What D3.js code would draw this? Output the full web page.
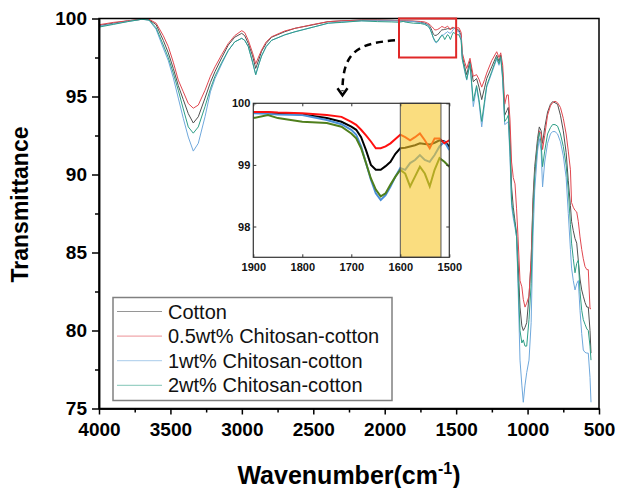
<!DOCTYPE html>
<html>
<head>
<meta charset="utf-8">
<script src="https://cdn.jsdelivr.net/npm/d3@7"></script>
<style>
  body { margin: 0; background: #fff; }
  text { font-family: Arial, "Liberation Sans", sans-serif; }
</style>
</head>
<body>
<svg width="618" height="488"></svg>
<script>
// FTIR spectra (wavenumber in cm-1, transmittance in %)
const wavenumbers = [4000,3900,3800,3700,3650,3600,3550,3515,3480,3445,3410,3375,3340,3305,3258,3220,3188,3140,3095,3050,
  3001,2980,2955,2925,2903,2880,2862,2830,2792,2700,2628,2500,2395,2300,2162,2050,1950,1900,1870,1850,
  1800,1750,1720,1700,1690,1680,1670,1660,1650,1640,1630,1620,1610,1600,1590,1580,1570,1560,1550,1540,
  1530,1520,1510,1500,1480,1465,1457,1440,1426,1403,1380,1357,1340,1321,1300,1286,1251,1216,1200,1188,
  1174,1160,1145,1135,1123,1112,1100,1088,1077,1067,1053,1040,1030,1018,1006,990,975,962,950,930,
  918,905,895,880,860,840,825,808,790,770,750,730,715,700,692,680,668,656,645,633,
  621,610,598,585,575,563,556];

const cotton = [99.55,99.70,99.85,99.95,99.92,99.60,98.60,97.80,96.80,95.70,
  94.80,93.90,93.30,93.70,94.90,95.90,96.60,97.50,98.30,98.80,
  99.05,98.90,98.40,97.60,96.80,97.40,97.90,98.40,98.80,99.15,
  99.37,99.60,99.80,99.85,99.90,99.90,99.88,99.86,99.85,99.84,
  99.82,99.76,99.70,99.62,99.57,99.45,99.24,99.00,98.92,98.92,
  98.98,99.05,99.18,99.27,99.28,99.30,99.32,99.35,99.34,99.33,
  99.36,99.40,99.38,99.30,99.25,98.90,97.60,96.90,96.40,97.30,
  95.95,96.15,95.60,94.80,95.60,96.15,96.90,97.65,97.25,97.65,
  96.50,93.80,94.10,94.30,92.40,89.20,87.90,87.00,86.25,84.50,
  81.50,80.30,80.00,80.20,80.50,82.20,84.50,88.50,90.50,92.30,
  93.05,92.80,92.00,93.00,94.00,94.50,94.67,94.60,94.50,93.80,
  92.80,91.40,89.60,88.00,87.00,86.40,85.90,85.60,84.50,83.30,
  82.60,82.20,81.80,81.50,81.50,80.00,78.55];

const chitosan05 = [99.60,99.75,99.85,99.95,99.95,99.70,98.90,98.20,97.20,96.05,
  95.30,94.55,94.25,94.45,95.40,96.30,96.90,97.70,98.40,98.90,
  99.22,99.10,98.60,97.80,97.10,97.60,97.98,98.50,98.83,99.20,
  99.37,99.62,99.80,99.85,99.90,99.90,99.88,99.86,99.86,99.85,
  99.84,99.81,99.78,99.70,99.65,99.57,99.48,99.38,99.27,99.27,
  99.30,99.35,99.42,99.49,99.45,99.40,99.45,99.51,99.40,99.27,
  99.43,99.43,99.35,99.40,99.40,99.10,97.80,97.20,96.80,97.45,
  96.30,96.40,96.10,95.60,96.10,96.50,97.30,97.87,97.50,97.80,
  97.00,94.50,95.10,95.10,93.50,90.80,89.80,89.40,87.80,86.00,
  83.20,82.80,82.00,81.50,81.75,82.20,84.60,88.00,90.00,92.00,
  92.80,92.60,91.60,92.50,93.80,94.40,94.60,94.70,94.60,94.30,
  93.60,92.60,91.50,90.30,88.20,87.90,87.70,87.60,87.00,86.00,
  85.20,84.60,84.10,83.90,83.90,81.40,81.40];

const chitosan1 = [99.50,99.65,99.80,99.95,99.90,99.30,98.10,97.30,96.20,94.90,
  93.60,92.40,91.50,92.00,93.70,95.30,96.15,97.10,97.95,98.50,
  98.73,98.60,98.20,97.20,96.40,97.10,97.60,98.20,98.60,98.95,
  99.15,99.45,99.70,99.78,99.85,99.85,99.85,99.84,99.83,99.82,
  99.81,99.73,99.66,99.57,99.49,99.30,99.03,98.76,98.54,98.43,
  98.51,98.65,98.81,98.95,98.92,99.03,99.08,99.16,99.08,99.05,
  99.16,99.30,99.38,99.24,99.15,98.70,97.40,96.60,96.05,97.10,
  94.35,95.60,94.60,93.05,94.60,95.60,96.50,97.40,97.00,97.50,
  96.00,93.20,93.30,93.40,91.10,88.00,87.20,86.60,86.00,83.00,
  78.10,76.50,75.40,76.50,77.30,78.10,80.50,86.00,89.00,91.50,
  92.30,91.50,89.20,90.80,92.00,92.60,92.75,92.75,92.60,92.10,
  91.20,89.80,87.50,85.20,84.00,83.20,82.60,83.00,83.20,81.30,
  79.80,78.75,78.60,78.55,78.55,77.00,75.40];

const chitosan2 = [99.45,99.62,99.80,99.95,99.90,99.40,98.30,97.50,96.50,95.40,
  94.20,93.05,92.65,93.05,94.35,95.50,96.30,97.20,97.95,98.50,
  98.73,98.60,98.20,97.20,96.40,97.10,97.60,98.20,98.60,98.95,
  99.15,99.45,99.70,99.75,99.85,99.80,99.78,99.76,99.81,99.76,
  99.70,99.68,99.62,99.51,99.43,99.27,99.03,98.78,98.60,98.49,
  98.54,98.68,98.81,98.92,98.86,98.65,98.81,98.97,98.86,98.65,
  98.92,99.11,99.05,98.97,98.95,98.60,97.40,96.70,96.10,97.10,
  94.70,95.70,94.80,93.40,94.80,95.70,96.60,97.50,97.10,97.55,
  96.20,93.40,93.60,93.80,91.50,88.30,87.50,86.80,86.00,83.50,
  80.00,79.20,79.40,79.00,79.00,80.70,83.00,87.50,90.00,92.00,
  92.70,92.00,90.50,91.50,92.60,93.00,93.20,93.20,93.10,92.60,
  91.80,90.60,89.00,86.80,85.60,84.60,83.70,84.30,84.50,82.50,
  81.30,80.70,80.40,80.10,80.00,79.00,78.10];

const seriesNames = ["Cotton", "0.5wt% Chitosan-cotton", "1wt% Chitosan-cotton", "2wt% Chitosan-cotton"];
const xTicks = [4000, 3500, 3000, 2500, 2000, 1500, 1000, 500];
const yTicks = [75, 80, 85, 90, 95, 100];
const insetXTicks = [1900, 1800, 1700, 1600, 1500];
const insetYTicks = [98, 99, 100];
const insetDomain = [1900, 1500];
const insetYDomain = [97.5, 100];
const highlightBand = [1600, 1517];

const svg = d3.select("svg"),
      margin = { top: 18.5, right: 19, bottom: 79.5, left: 99 },
      width = +svg.attr("width") - margin.left - margin.right,
      height = +svg.attr("height") - margin.top - margin.bottom;

const g = svg.append("g").attr("transform", `translate(${margin.left},${margin.top})`);

const x = d3.scaleLinear().domain([4000, 500]).range([0, width]);
const y = d3.scaleLinear().domain([75, 100]).range([height, 0]);

const mainColors = ["#505050", "#e0474f", "#6fa8dc", "#2e9e86"];
const insetColors = ["#000000", "#ff1010", "#4a8fd8", "#4f7f1c"];

const series = seriesNames.map((name, i) => ({
  name,
  points: wavenumbers.map((w, j) => ({ w, t: [cotton, chitosan05, chitosan1, chitosan2][i][j] }))
}));

// clip
svg.append("defs").append("clipPath").attr("id", "clipMain")
  .append("rect").attr("width", width).attr("height", height);

const line = d3.line().x(d => x(d.w)).y(d => y(d.t));

g.append("g").attr("clip-path", "url(#clipMain)")
  .selectAll("path")
  .data(series)
  .enter()
  .append("path")
  .attr("d", d => line(d.points))
  .attr("fill", "none")
  .attr("stroke", (d, i) => mainColors[i])
  .attr("stroke-width", 1);

// Axes
const minorX = d3.range(4000, 499, -250).filter(v => !xTicks.includes(v));
const minorY = d3.range(75, 100.1, 2.5).filter(v => !yTicks.includes(v));

const xAxis = g.append("g").attr("transform", `translate(0,${height})`)
  .call(d3.axisBottom(x).tickValues(xTicks).tickSize(6).tickSizeOuter(0).tickPadding(8).tickFormat(d3.format("d")));
g.append("g").attr("transform", `translate(0,${height})`)
  .call(d3.axisBottom(x).tickValues(minorX).tickSize(4).tickSizeOuter(0).tickFormat(""));
const yAxis = g.append("g")
  .call(d3.axisLeft(y).tickValues(yTicks).tickSize(7).tickSizeOuter(0).tickPadding(5).tickFormat(d3.format("d")));
g.append("g")
  .call(d3.axisLeft(y).tickValues(minorY).tickSize(4).tickSizeOuter(0).tickFormat(""));

g.selectAll(".tick line").attr("stroke", "#000").attr("stroke-width", 1.5);
g.selectAll(".domain").attr("stroke", "#000").attr("stroke-width", 1.5);
[xAxis, yAxis].forEach(a => a.selectAll("text")
  .style("font-size", "19px").style("font-weight", "bold").attr("fill", "#000"));

// frame
g.append("rect").attr("width", width).attr("height", height)
  .attr("fill", "none").attr("stroke", "#000").attr("stroke-width", 1.5);

// Titles
svg.append("text")
  .attr("transform", `translate(28,${margin.top + height / 2 - 9}) rotate(-90)`)
  .attr("text-anchor", "middle")
  .style("font-size", "23px").style("font-weight", "bold")
  .text("Transmittance");

const xt = svg.append("text")
  .attr("x", margin.left + width / 2)
  .attr("y", 484)
  .attr("text-anchor", "middle")
  .style("font-size", "25px").style("font-weight", "bold");
xt.append("tspan").text("Wavenumber(cm");
xt.append("tspan").attr("dy", -10).style("font-size", "16px").text("-1");
xt.append("tspan").attr("dy", 10).text(")");

// Zoom box on the main plot
g.append("rect")
  .attr("x", x(insetDomain[0]))
  .attr("y", y(insetYDomain[1]))
  .attr("width", x(insetDomain[1]) - x(insetDomain[0]))
  .attr("height", y(insetYDomain[0]) - y(insetYDomain[1]))
  .attr("fill", "none").attr("stroke", "#e02828").attr("stroke-width", 2);

// Inset
const inset = { left: 253.3, top: 103.3, width: 196, height: 154 };
const xi = d3.scaleLinear().domain(insetDomain).range([0, inset.width]);
const yi = d3.scaleLinear().domain(insetYDomain).range([inset.height, 0]);

const ig = svg.append("g").attr("transform", `translate(${inset.left},${inset.top})`);
ig.append("rect").attr("width", inset.width).attr("height", inset.height).attr("fill", "#fff");

svg.select("defs").append("clipPath").attr("id", "clipInset")
  .append("rect").attr("width", inset.width).attr("height", inset.height);

const lineInset = d3.line().x(d => xi(d.w)).y(d => yi(d.t));
const drawOrder = [0, 2, 3, 1];
ig.append("g").attr("clip-path", "url(#clipInset)")
  .selectAll("path")
  .data(drawOrder)
  .enter()
  .append("path")
  .attr("d", i => lineInset(series[i].points.filter(p => p.w <= 1900 && p.w >= 1500)))
  .attr("fill", "none")
  .attr("stroke", i => insetColors[i])
  .attr("stroke-width", 2);

// highlighted band
ig.append("rect")
  .attr("x", xi(highlightBand[0]))
  .attr("width", xi(highlightBand[1]) - xi(highlightBand[0]))
  .attr("height", inset.height)
  .attr("fill", "#f7c72a").attr("fill-opacity", 0.6)
  .attr("stroke", "#555").attr("stroke-width", 1);

const ixAxis = ig.append("g").attr("transform", `translate(0,${inset.height})`)
  .call(d3.axisBottom(xi).tickValues(insetXTicks).tickSize(-3).tickSizeOuter(0).tickPadding(6).tickFormat(d3.format("d")));
const iyAxis = ig.append("g")
  .call(d3.axisLeft(yi).tickValues(insetYTicks).tickSize(-3).tickSizeOuter(0).tickPadding(3).tickFormat(d3.format("d")));
ig.append("g").call(d3.axisTop(xi).tickValues(insetXTicks).tickSize(-3).tickSizeOuter(0).tickFormat(""));
ig.append("g").attr("transform", `translate(${inset.width},0)`)
  .call(d3.axisRight(yi).tickValues(insetYTicks).tickSize(-3).tickSizeOuter(0).tickFormat(""));
ig.selectAll(".domain").attr("stroke", "none");
ig.selectAll(".tick line").attr("stroke", "#333");
[ixAxis, iyAxis].forEach(a => a.selectAll("text")
  .style("font-size", "11px").style("font-weight", "bold").attr("fill", "#111"));
ig.append("rect").attr("width", inset.width).attr("height", inset.height)
  .attr("fill", "none").attr("stroke", "#333").attr("stroke-width", 1.2);

// dashed arrow from zoom box to inset
const sx = margin.left + x(insetDomain[0]) - 4, sy = margin.top + y(98.6);
const ex = inset.left + xi(1718), ey = inset.top - 8;
svg.append("path")
  .attr("d", `M${sx},${sy} C${sx - 38},${sy + 3} ${ex},${sy + 12} ${ex},${ey - 4}`)
  .attr("fill", "none").attr("stroke", "#000").attr("stroke-width", 2.5)
  .attr("stroke-dasharray", "7,5");
svg.append("path")
  .attr("d", `M${ex - 5},${ey - 7} L${ex},${ey} L${ex + 5},${ey - 7}`)
  .attr("fill", "none").attr("stroke", "#000").attr("stroke-width", 2.5);

// Legend
const legend = svg.append("g").attr("transform", `translate(${margin.left + 14},${margin.top + 279})`);
legend.append("rect")
  .attr("width", 279).attr("height", 103)
  .attr("fill", "#fff").attr("stroke", "#808080").attr("stroke-width", 1.5);

legend.selectAll("g")
  .data(seriesNames)
  .enter()
  .append("g")
  .attr("transform", (d, i) => `translate(0,${14 + i * 24.6})`)
  .each(function(d, i) {
    d3.select(this).append("line")
      .attr("x1", 4).attr("x2", 49)
      .attr("stroke", mainColors[i]).attr("stroke-opacity", 0.6).attr("stroke-width", 1);
    d3.select(this).append("text")
      .attr("x", 55).attr("y", 7)
      .style("font-size", "20px")
      .attr("fill", "#111")
      .text(d);
  });
</script>
</body>
</html>
